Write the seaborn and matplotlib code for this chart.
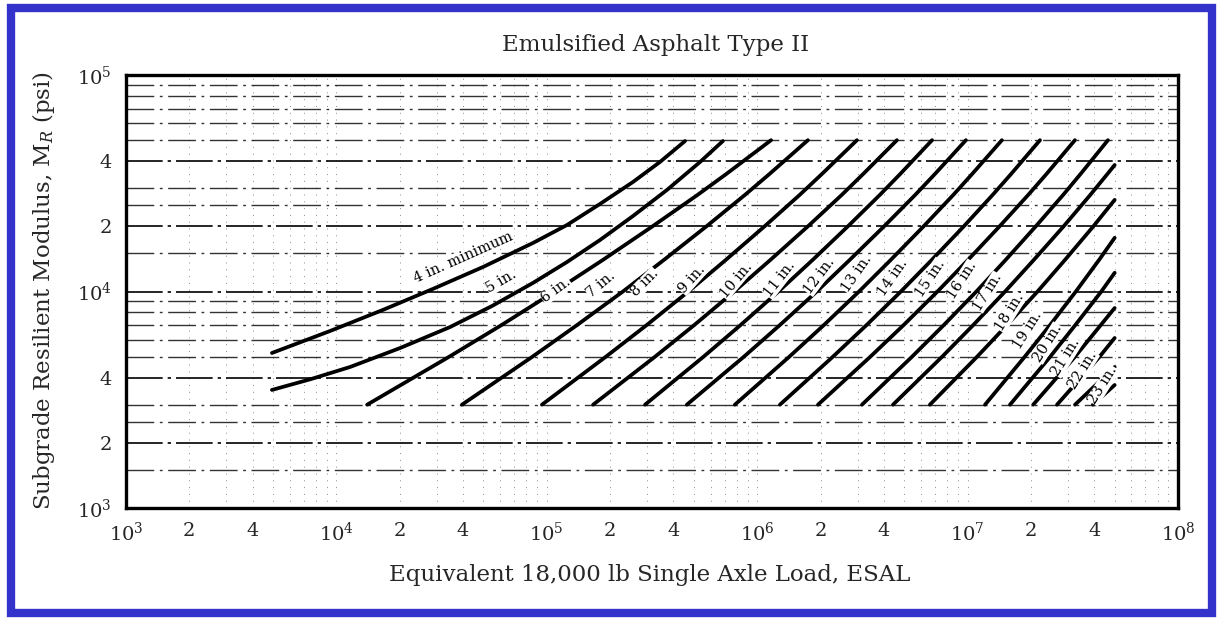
import numpy as np
import pandas as pd
import matplotlib
matplotlib.use("Agg")
import matplotlib.pyplot as plt
import seaborn as sns
from matplotlib.ticker import FixedLocator, FixedFormatter, NullFormatter, LogLocator
from matplotlib.patches import Rectangle

# ---------------- data ----------------
mr_std = [3000, 5000, 7000, 10000, 14000, 20000, 28000, 35000, 50000]

esal_4in = [4940, 9330, 16630, 28770, 49770, 85900, 124700, 179000, 256900, 345000, 454000]
mr_4in = [5200, 6570, 8220, 10280, 12980, 16750, 20280, 25370, 32060, 39650, 49550]
esal_5in = [4940, 7570, 11610, 20060, 34670, 54900, 85900, 124700, 179000, 256900,
            372400, 535000, 687000]
mr_5in = [3510, 3940, 4480, 5480, 6850, 8570, 10950, 13680, 17290, 22320, 29440,
          39650, 49550]

esal_6in = [14000, 34400, 60950, 109000, 184900, 318000, 522400, 716000, 1164000]
esal_7in = [39500, 85500, 139300, 230000, 360600, 574000, 877000, 1148000, 1742000]
esal_8in = [94800, 191000, 298500, 471000, 709600, 1084000, 1596000, 2037000, 2979000]
esal_9in = [166000, 327000, 502300, 778000, 1156000, 1742000, 2529000, 3199000, 4613000]
esal_10in = [293000, 556000, 833700, 1262000, 1836000, 2698000, 3837000, 4797000, 6776000]
esal_11in = [463000, 865000, 1282000, 1919000, 2754000, 4009000, 5649000, 7015000, 9817000]
esal_12in = [783000, 1422000, 2075000, 3048000, 4315000, 6180000, 8570000, 10540000,
             14550000]
esal_13in = [1282000, 2291000, 3311000, 4819000, 6761000, 9594000, 13180000, 16140000,
             22080000]
esal_14in = [1945000, 3451000, 4966000, 7194000, 10050000, 14190000, 19450000, 23770000,
             32360000]
esal_15in = [3148000, 5445000, 7709000, 11010000, 15170000, 21090000, 28510000, 34510000,
             46450000]

esal_16in = [4420000, 7570000, 10640000, 15070000, 20650000, 28600000, 38370000, 46300000,
             50000000]
mr_16in = [3000, 5000, 7000, 10000, 14000, 20000, 28000, 35000, 38400]
esal_17in = [6620000, 11100000, 15380000, 21500000, 29040000, 39600000, 50000000]
mr_17in = [3000, 5000, 7000, 10000, 14000, 20000, 26500]
esal_18in = [12100000, 18700000, 24660000, 32700000, 42170000, 50000000]
mr_18in = [3000, 5000, 7000, 10000, 14000, 17700]
esal_19in = [15900000, 24700000, 32510000, 43200000, 50000000]
mr_19in = [3000, 5000, 7000, 10000, 12200]
esal_20in = [20500000, 32400000, 50000000]
mr_20in = [3000, 5000, 8390]
esal_21in = [26600000, 42400000, 50000000]
mr_21in = [3000, 5000, 6100]
esal_22in = [32400000, 50000000]
mr_22in = [3000, 4480]
esal_23in = [39400000, 50000000]
mr_23in = [3000, 3700]

label_text = ["4 in. minimum", "5 in.", "6 in.", "7 in.", "8 in.", "9 in.", "10 in.",
              "11 in.", "12 in.", "13 in.", "14 in.", "15 in.", "16 in.", "17 in.",
              "18 in.", "19 in.", "20 in.", "21 in.", "22 in.", "23 in."]
label_esal = [40000, 61000, 110600, 181000, 293000, 490000, 793000, 1282000, 1986000,
              2978000, 4420000, 6620000, 9400000, 12500000, 15900000, 19400000,
              24100000, 29400000, 35300000, 44000000]
label_mr = [14400, 11100, 10160, 10800, 10950, 11400, 11300, 11400, 11800, 12060,
            11540, 11540, 11300, 9950, 8040, 6640, 5780, 4980, 4340, 3700]
label_rot = [24, 30, 36, 40, 45, 48, 50, 52, 53, 55, 55, 56, 57, 58, 58, 58, 58, 58, 58, 58]

x_tick_vals = [1e3, 2e3, 4e3, 1e4, 2e4, 4e4, 1e5, 2e5, 4e5, 1e6, 2e6, 4e6, 1e7, 2e7, 4e7, 1e8]
x_tick_labels = [r"$10^3$", "2", "4", r"$10^4$", "2", "4", r"$10^5$", "2", "4",
                 r"$10^6$", "2", "4", r"$10^7$", "2", "4", r"$10^8$"]
y_tick_vals = [1e3, 2e3, 4e3, 1e4, 2e4, 4e4, 1e5]
y_tick_labels = [r"$10^3$", "2", "4", r"$10^4$", "2", "4", r"$10^5$"]

# ---------------- assemble ----------------
curves = [
    ("4", esal_4in, mr_4in), ("5", esal_5in, mr_5in),
    ("6", esal_6in, mr_std), ("7", esal_7in, mr_std), ("8", esal_8in, mr_std),
    ("9", esal_9in, mr_std), ("10", esal_10in, mr_std), ("11", esal_11in, mr_std),
    ("12", esal_12in, mr_std), ("13", esal_13in, mr_std), ("14", esal_14in, mr_std),
    ("15", esal_15in, mr_std), ("16", esal_16in, mr_16in), ("17", esal_17in, mr_17in),
    ("18", esal_18in, mr_18in), ("19", esal_19in, mr_19in), ("20", esal_20in, mr_20in),
    ("21", esal_21in, mr_21in), ("22", esal_22in, mr_22in), ("23", esal_23in, mr_23in),
]
frames = []
for name, xs, ys in curves:
    frames.append(pd.DataFrame({"esal": xs, "mr": ys, "curve": name}))
df = pd.concat(frames, ignore_index=True)

sns.set_style("white")
plt.rcParams["font.family"] = ["DejaVu Serif", "Liberation Serif"]
plt.rcParams["mathtext.fontset"] = "dejavuserif"

W, H = 1218, 619
fig = plt.figure(figsize=(W / 100, H / 100), dpi=100)
ax = fig.add_axes([126 / W, 1 - 508 / H, (1178 - 126) / W, (508 - 75) / H])

ax.set_xscale("log")
ax.set_yscale("log")
ax.set_xlim(1e3, 1e8)
ax.set_ylim(1e3, 1e5)

# background grid
ax.yaxis.set_minor_locator(LogLocator(base=10, subs=[1.5, 2, 2.5, 3, 4, 5, 6, 7, 8, 9]))
ax.xaxis.set_minor_locator(LogLocator(base=10, subs=np.arange(2, 10)))
ax.grid(which="major", axis="y", color="black", lw=1.2, linestyle=(0, (22, 3, 2, 3)))
ax.grid(which="minor", axis="y", color="black", lw=1.0, alpha=0.8,
        linestyle=(0, (20, 4, 2, 4)))
ax.grid(which="both", axis="x", color="0.55", lw=0.7, linestyle=(0, (1, 6)))
ax.set_axisbelow(True)

palette = {name: "black" for name, _, _ in curves}
sns.lineplot(data=df, x="esal", y="mr", hue="curve", palette=palette, sort=False,
             estimator=None, units="curve", legend=False, lw=2.7, ax=ax)

for t, xv, yv, r in zip(label_text, label_esal, label_mr, label_rot):
    ax.text(xv, yv, t, rotation=r, rotation_mode="anchor", ha="center", va="center",
            fontsize=10.5, color="black", zorder=5,
            bbox=dict(facecolor="white", edgecolor="none", pad=0.1))

ax.xaxis.set_major_locator(FixedLocator(x_tick_vals))
ax.xaxis.set_major_formatter(FixedFormatter(x_tick_labels))
ax.xaxis.set_minor_formatter(NullFormatter())
ax.yaxis.set_major_locator(FixedLocator(y_tick_vals))
ax.yaxis.set_major_formatter(FixedFormatter(y_tick_labels))
ax.yaxis.set_minor_formatter(NullFormatter())
ax.tick_params(which="major", direction="in", length=6, width=1.2, labelsize=14, pad=10,
               top=False, right=False)
ax.tick_params(which="minor", direction="in", length=4, width=0.8)
ax.set_xlabel("")
ax.set_ylabel("")
for s in ax.spines.values():
    s.set_linewidth(2.4)
    s.set_color("black")

fig.text(656 / W, 1 - 45 / H, "Emulsified Asphalt Type II", ha="center", va="center",
         fontsize=16.5)
fig.text(650 / W, 1 - 575 / H, "Equivalent 18,000 lb Single Axle Load, ESAL",
         ha="center", va="center", fontsize=16.5)
fig.text(44 / W, 1 - 290 / H, r"Subgrade Resilient Modulus, M$_R$ (psi)",
         ha="center", va="center", rotation=90, fontsize=16.5)

fig.patches.append(Rectangle((11 / W, 6 / H), (1212 - 11) / W, (611 - 6) / H,
                             transform=fig.transFigure, fill=False,
                             edgecolor="#3333cc", lw=6))

fig.savefig("out.png", dpi=100)
